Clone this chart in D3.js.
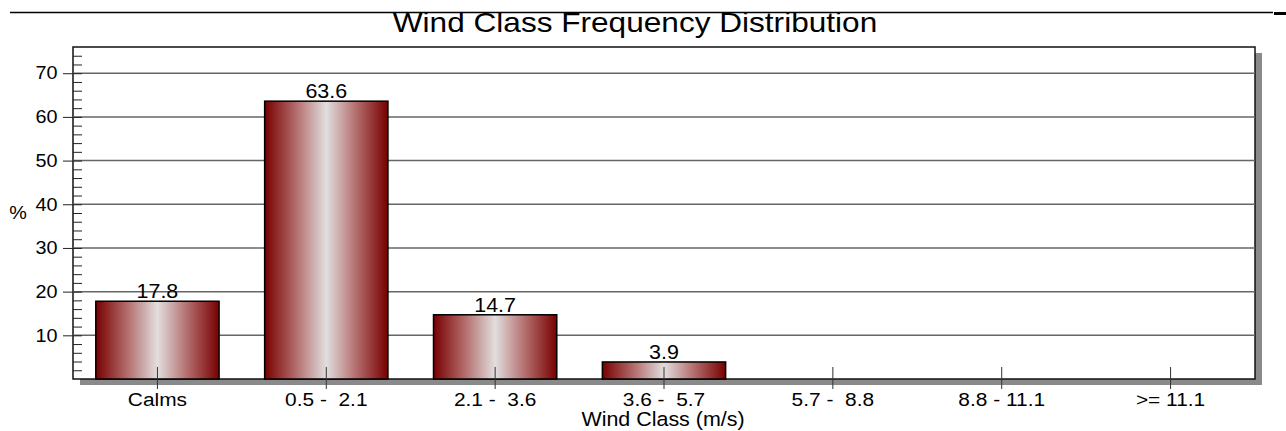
<!DOCTYPE html>
<html>
<head>
  <meta charset="utf-8">
  <script src="https://d3js.org/d3.v7.min.js"></script>
  <style>
    body { margin: 0; background: #fff; }
    svg { display: block; font-family: "Liberation Sans", Arial, sans-serif; }
    .xax text { white-space: pre; }
  </style>
</head>
<body>
<script>
  // wind classes and their frequency (%)
  var classes = ["Calms", "0.5 -  2.1", "2.1 -  3.6", "3.6 -  5.7", "5.7 -  8.8", "8.8 - 11.1", ">= 11.1"];
  var freq = [17.8, 63.6, 14.7, 3.9, 0, 0, 0];
  var yMajor = [10, 20, 30, 40, 50, 60, 70];

  var W = 1286, H = 431;
  // plot frame (note: "top" is a reserved window property, so use other names)
  var pL = 73, pR = 1255, pT = 47, pB = 379;
  // the original lettering is a bit wider than Liberation Sans
  var stretch = 1.1;

  var svg = d3.select("body").append("svg")
    .attr("width", W).attr("height", H);

  function label(x0, y0, size, s, txt) {
    return svg.append("text")
      .attr("transform", "translate(" + x0 + "," + y0 + ") scale(" + s + ",1)")
      .attr("text-anchor", "middle")
      .style("font-size", size + "px")
      .text(txt);
  }

  // bar gradient, dark red at the edges and pale grey in the middle
  var grad = svg.append("defs").append("linearGradient")
    .attr("id", "barGrad").attr("x1", "0%").attr("x2", "100%");
  grad.append("stop").attr("offset", "0%").attr("stop-color", "#780000");
  grad.append("stop").attr("offset", "25%").attr("stop-color", "#b26a6a");
  grad.append("stop").attr("offset", "50%").attr("stop-color", "#e2dede");
  grad.append("stop").attr("offset", "75%").attr("stop-color", "#b26a6a");
  grad.append("stop").attr("offset", "100%").attr("stop-color", "#780000");

  // line across the top
  svg.append("line").attr("x1", 10).attr("x2", 1273).attr("y1", 12.5).attr("y2", 12.5)
    .attr("stroke", "#000").attr("stroke-width", 1.5);
  svg.append("line").attr("x1", 1274).attr("x2", 1286).attr("y1", 13.5).attr("y2", 13.5)
    .attr("stroke", "#000").attr("stroke-width", 3);

  label(635, 32, 27, 1.17, "Wind Class Frequency Distribution");

  var x = d3.scaleBand().domain(classes).range([pL, pR])
    .paddingInner(0.27).paddingOuter(0.135);
  var y = d3.scaleLinear().domain([0, 76]).range([pB, pT]);

  // frame shadow and frame
  svg.append("rect")
    .attr("x", pL + 7).attr("y", pT + 6)
    .attr("width", pR - pL).attr("height", pB - pT)
    .attr("fill", "#8a8a8a");
  svg.append("rect")
    .attr("x", pL).attr("y", pT)
    .attr("width", pR - pL).attr("height", pB - pT)
    .attr("fill", "#fff").attr("stroke", "#111").attr("stroke-width", 1.5);

  // gridlines
  svg.selectAll(".grid").data(yMajor).enter().append("line")
    .attr("x1", pL).attr("x2", pR)
    .attr("y1", function (d) { return y(d); })
    .attr("y2", function (d) { return y(d); })
    .attr("stroke", "#666").attr("stroke-width", 1.5);

  var shown = classes.map(function (c, i) { return {c: c, v: freq[i]}; })
    .filter(function (d) { return d.v > 0; });

  // bars
  svg.selectAll(".bar").data(shown).enter().append("rect")
    .attr("x", function (d) { return x(d.c); })
    .attr("y", function (d) { return y(d.v); })
    .attr("width", x.bandwidth())
    .attr("height", function (d) { return y(0) - y(d.v); })
    .attr("fill", "url(#barGrad)")
    .attr("stroke", "#000").attr("stroke-width", 1.5);

  // value labels
  shown.forEach(function (d) {
    label(x(d.c) + x.bandwidth() / 2, y(d.v) - 3, 19.5, stretch, d.v.toFixed(1));
  });

  // y axis: labelled ticks outside, minor ticks inside
  var yAxis = svg.append("g").attr("transform", "translate(" + pL + ",0)")
    .call(d3.axisLeft(y).tickValues(yMajor).tickSize(10).tickPadding(4));
  yAxis.select(".domain").remove();
  yAxis.selectAll("text").style("font-size", "18px").attr("fill", "#000")
    .attr("transform", "scale(" + stretch + ",1)");
  yAxis.selectAll("line").attr("stroke", "#222");

  var yMinor = svg.append("g").attr("transform", "translate(" + pL + ",0)")
    .call(d3.axisRight(y).tickValues(d3.range(2, 76, 2)).tickSize(9).tickFormat(""));
  yMinor.select(".domain").remove();
  yMinor.selectAll("line").attr("stroke", "#222");

  // x axis ticks cross the bottom edge
  var xAxis = svg.append("g").attr("class", "xax")
    .attr("transform", "translate(0,367)")
    .call(d3.axisBottom(x).tickSize(22).tickPadding(4));
  xAxis.select(".domain").remove();
  xAxis.selectAll("text").style("font-size", "19px").attr("fill", "#000")
    .attr("transform", "scale(" + stretch + ",1)");
  xAxis.selectAll("line").attr("stroke", "#333");

  label(663, 426, 19.5, stretch, "Wind Class (m/s)");
  label(18, 219, 18, stretch, "%");
</script>
</body>
</html>
